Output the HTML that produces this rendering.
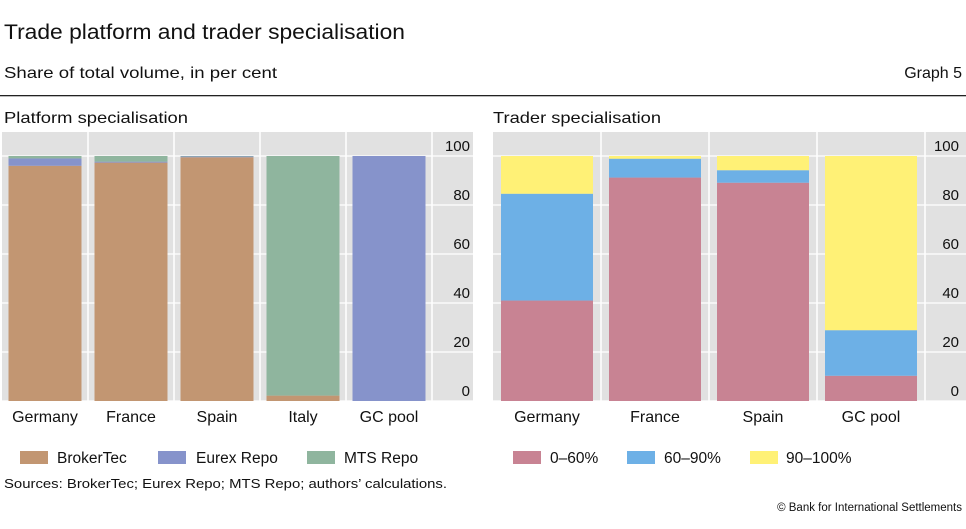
<!DOCTYPE html>
<html><head><meta charset="utf-8">
<style>
body{margin:0;background:#fff;}
svg text{font-family:"Liberation Sans",sans-serif;fill:#111;}
</style></head>
<body>
<svg id="chart" width="966" height="524" xmlns="http://www.w3.org/2000/svg">
<text x="4" y="39" font-size="21" textLength="401" lengthAdjust="spacingAndGlyphs">Trade platform and trader specialisation</text>
<text x="4" y="78" font-size="16" textLength="273" lengthAdjust="spacingAndGlyphs">Share of total volume, in per cent</text>
<text x="962" y="78" font-size="16" text-anchor="end">Graph 5</text>
<rect x="0" y="95" width="966" height="1.3" fill="#222"/>
<text x="4" y="123" font-size="16" textLength="184" lengthAdjust="spacingAndGlyphs">Platform specialisation</text>
<text x="493" y="123" font-size="16" textLength="168" lengthAdjust="spacingAndGlyphs">Trader specialisation</text>
<g id="left"></g>
<g id="right"></g>
<text x="4" y="488" font-size="13" textLength="443" lengthAdjust="spacingAndGlyphs">Sources: BrokerTec; Eurex Repo; MTS Repo; authors’ calculations.</text>
<text x="962" y="511" font-size="11.5" text-anchor="end">© Bank for International Settlements</text>
</svg>
<script>
const ticks=[0,20,40,60,80,100];
const leftCats=["Germany","France","Spain","Italy","GC pool"];
const leftSeriesNames=["BrokerTec","Eurex Repo","MTS Repo"];
const brokerTec=[96,97.3,99.5,2.2,0];
const eurexRepo=[3,0.4,0.3,0,100];
const mtsRepo=[1,2.3,0.2,97.8,0];
const rightCats=["Germany","France","Spain","GC pool"];
const rightSeriesNames=["0–60%","60–90%","90–100%"];
const share0to60=[41,91.2,89.1,10.3];
const share60to90=[43.6,7.7,5.1,18.6];
const share90to100=[15.4,1.1,5.8,71.1];

const NS="http://www.w3.org/2000/svg";
function mk(parent,tag,attrs){const e=document.createElementNS(NS,tag);for(const k in attrs)e.setAttribute(k,attrs[k]);parent.appendChild(e);return e;}
const y0=401,pxPerUnit=2.45;
function yScale(v){return y0-v*pxPerUnit;}

function panel(g,name,plotLeft,band,barW,grayRight,labelX,cats,series,colors,names,legendX,legendTextX){
  const bg=mk(g,'rect',{x:plotLeft,y:132,width:grayRight-plotLeft,height:y0-132,fill:'#e1e1e1'});
  
  
  ticks.forEach(t=>{
    const l=mk(g,'line',{x1:plotLeft,x2:grayRight,y1:yScale(t),y2:yScale(t),stroke:'#fff','stroke-width':1.2});
    
    
    const tx=mk(g,'text',{x:labelX,y:yScale(t)-5,'font-size':15,'text-anchor':'end'});
    tx.textContent=t;
    
    
  });
  for(let i=1;i<=cats.length;i++){
    const v=mk(g,'line',{x1:plotLeft+i*band,x2:plotLeft+i*band,y1:132,y2:y0,stroke:'#fff','stroke-width':1.5});
    
    
  }
  cats.forEach((c,i)=>{
    const cx=plotLeft+band*(i+0.5);
    let acc=0;
    series.forEach((s,k)=>{
      const val=s[i];
      if(val>0){
        const r=mk(g,'rect',{x:cx-barW/2,y:yScale(acc+val),width:barW,height:val*pxPerUnit,fill:colors[k]});
        
        
      }
      acc+=val;
    });
    const t=mk(g,'text',{x:cx,y:422,'font-size':16,'text-anchor':'middle'});
    t.textContent=c;
    
    
  });
  names.forEach((n,k)=>{
    const sw=mk(g,'rect',{x:legendX[k],y:451,width:28,height:13,fill:colors[k]});
    
    
    const t=mk(g,'text',{x:legendTextX[k],y:463,'font-size':15.5});
    t.textContent=n;
    
    
  });
}
panel(document.getElementById('left'),'left',2,86,73,473,470,leftCats,[brokerTec,eurexRepo,mtsRepo],['#c29672','#8693cb','#8fb59e'],leftSeriesNames,[20,158,307],[57,196,344]);
panel(document.getElementById('right'),'right',493,108,92,966,959,rightCats,[share0to60,share60to90,share90to100],['#c88393','#6db0e6','#fff176'],rightSeriesNames,[513,627,750],[550,664,786]);
</script>
</body></html>
